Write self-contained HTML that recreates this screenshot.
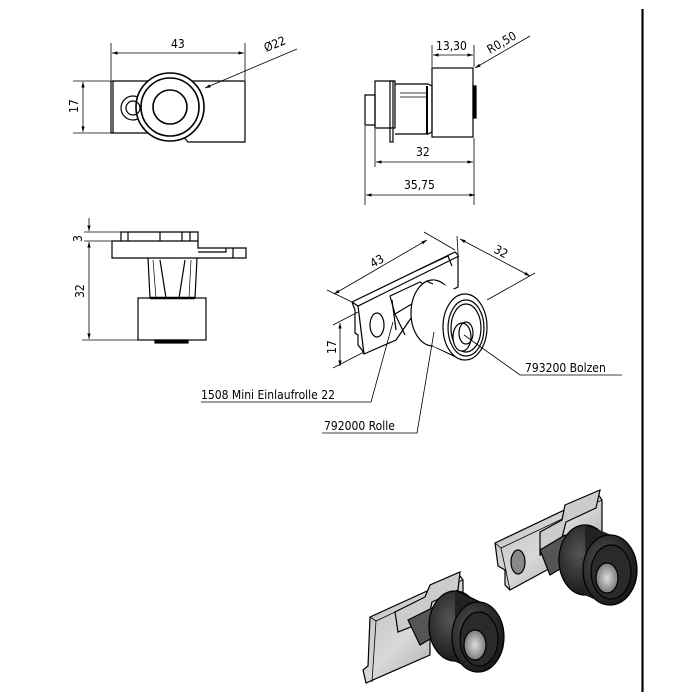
<!DOCTYPE html>
<html><head><meta charset="utf-8"><style>
html,body{margin:0;padding:0;background:#fff;}
svg{display:block;}
text{font-family:"DejaVu Sans Condensed","Liberation Sans",sans-serif;font-size:12px;fill:#000;}
</style></head><body>
<svg width="700" height="700" viewBox="0 0 700 700" xmlns="http://www.w3.org/2000/svg">
<defs>
<marker id="a" viewBox="0 0 10 10" refX="10" refY="5" markerWidth="7" markerHeight="7" orient="auto-start-reverse"><path d="M0,2 L10,5 L0,8 z" fill="#000"/></marker>
<linearGradient id="met" x1="0" y1="0" x2="1" y2="1"><stop offset="0" stop-color="#bbb"/><stop offset="0.5" stop-color="#d8d8d8"/><stop offset="1" stop-color="#999"/></linearGradient>
<radialGradient id="dk" cx="40%" cy="40%" r="70%"><stop offset="0" stop-color="#555"/><stop offset="1" stop-color="#111"/></radialGradient>
<radialGradient id="bolt" cx="50%" cy="50%" r="60%"><stop offset="0" stop-color="#ddd"/><stop offset="1" stop-color="#666"/></radialGradient>
</defs>
<g fill="none" stroke="#000" stroke-width="1">
<line x1="642.5" y1="9" x2="642.5" y2="692" stroke-width="2.2"/>

<!-- TOP LEFT VIEW -->
<g stroke-width="1.2">
<path d="M111,81 H245 V142 H188 L180,133 H111 Z"/>
<line x1="113" y1="81" x2="113" y2="133"/>
<circle cx="133" cy="108" r="12" fill="#fff"/>
<circle cx="170" cy="107" r="34" fill="#fff" stroke-width="1.6"/>
<circle cx="170" cy="107" r="29" stroke-width="1.6"/>
<circle cx="170" cy="107" r="17" stroke-width="1.6"/>
<circle cx="133" cy="108" r="7"/>
</g>
<line x1="111" y1="43" x2="111" y2="80" stroke-width="0.8"/>
<line x1="245" y1="43" x2="245" y2="80" stroke-width="0.8"/>
<line x1="112" y1="53" x2="244" y2="53" stroke-width="0.8" marker-start="url(#a)" marker-end="url(#a)"/>
<line x1="73" y1="81" x2="111" y2="81" stroke-width="0.8"/>
<line x1="73" y1="133" x2="111" y2="133" stroke-width="0.8"/>
<line x1="83" y1="82" x2="83" y2="132" stroke-width="0.8" marker-start="url(#a)" marker-end="url(#a)"/>
<line x1="297" y1="49" x2="205" y2="88" stroke-width="0.8" marker-end="url(#a)"/>

<!-- TOP RIGHT VIEW -->
<g stroke-width="1.2">
<rect x="432" y="68" width="41" height="69"/>
<rect x="473" y="86" width="3" height="32" fill="#000"/>
<path d="M375,81 H395 V128 H375 Z"/>
<path d="M365,95 H375 V125 H365 Z"/>
<rect x="390" y="81" width="3" height="61"/>
<path d="M395,84 H428 L432,86 V132 L428,134 H395"/>
<line x1="400" y1="93" x2="428" y2="93" stroke-width="0.8"/>
<line x1="400" y1="97" x2="428" y2="97" stroke-width="0.8"/>
<line x1="427" y1="86" x2="427" y2="134" stroke-width="2"/>
</g>
<line x1="432" y1="45" x2="432" y2="67" stroke-width="0.8"/>
<line x1="474" y1="45" x2="474" y2="67" stroke-width="0.8"/>
<line x1="433" y1="55" x2="473" y2="55" stroke-width="0.8" marker-start="url(#a)" marker-end="url(#a)"/>
<line x1="530" y1="36" x2="475" y2="68" stroke-width="0.8" marker-end="url(#a)"/>
<line x1="375" y1="129" x2="375" y2="167" stroke-width="0.8"/>
<line x1="474" y1="138" x2="474" y2="205" stroke-width="0.8"/>
<line x1="365" y1="126" x2="365" y2="205" stroke-width="0.8"/>
<line x1="376" y1="162" x2="473" y2="162" stroke-width="0.8" marker-start="url(#a)" marker-end="url(#a)"/>
<line x1="366" y1="195" x2="475" y2="195" stroke-width="0.8" marker-start="url(#a)" marker-end="url(#a)"/>

<!-- MIDDLE LEFT VIEW -->
<g stroke-width="1.2">
<path d="M121,241 V232 H198 V241"/>
<line x1="128" y1="232" x2="128" y2="241"/>
<line x1="160" y1="232" x2="160" y2="241"/>
<line x1="182" y1="232" x2="182" y2="241"/>
<line x1="190" y1="232" x2="190" y2="241"/>
<path d="M112,241 H198 V248 H246 V258 H112 Z"/>
<path d="M198,252 H226 V248"/>
<line x1="233" y1="248" x2="233" y2="258"/>
<path d="M148,258 L150,298 M197,258 L195,298"/>
<path d="M160,260 L166,298 M185,260 L179,298"/>
<line x1="153" y1="260" x2="156" y2="298" stroke-width="0.7"/>
<line x1="191" y1="260" x2="189" y2="298" stroke-width="0.7"/>
<rect x="138" y="298" width="68" height="42"/>
<line x1="150" y1="298" x2="195" y2="298" stroke-width="2.5"/>
<rect x="155" y="340" width="33" height="3" fill="#000"/>
</g>
<line x1="84" y1="232" x2="121" y2="232" stroke-width="0.8"/>
<line x1="84" y1="241" x2="112" y2="241" stroke-width="0.8"/>
<line x1="82" y1="340" x2="138" y2="340" stroke-width="0.8"/>
<line x1="89" y1="218" x2="89" y2="231" stroke-width="0.8" marker-end="url(#a)"/>
<line x1="89" y1="242" x2="89" y2="339" stroke-width="0.8" marker-start="url(#a)" marker-end="url(#a)"/>

<!-- ISOMETRIC -->
<g stroke-width="1.2">
<path d="M352,302 L455,252 L458,255 L458,287 L420,305 L396,340 L364,354 L362,350 L358,345 L358,335 L355,333 L355,310 Z" fill="#fff"/>
<path d="M352,302 L358,306 L459,256"/>
<line x1="358" y1="306" x2="364" y2="354"/>
<ellipse cx="377" cy="325" rx="7" ry="12"/>
<path d="M390,296 L420,282 L435,290 L410,305 L395,314 Z" fill="#fff"/>
<path d="M392,300 L396,330 M395,314 L405,335"/>
<path d="M418,270 L448,256 L452,266"/>
<path d="M432,280 L457,292 L487,327 L465,360 L440,350 L410,325 Z" fill="#fff" stroke="none"/>
<ellipse cx="433" cy="313" rx="22" ry="33" fill="#fff"/>
<path d="M426,281 L457,294 M433,346 L462,360"/>
<path d="M433,280 L465,294 L465,360 L433,346 Z" fill="#fff" stroke="none"/>
<ellipse cx="465" cy="327" rx="22" ry="33" fill="#fff"/>
<ellipse cx="466" cy="328" rx="18" ry="28"/>
<ellipse cx="466" cy="328" rx="15" ry="24"/>
<ellipse cx="462" cy="337" rx="9" ry="14" fill="#fff"/>
<ellipse cx="466" cy="333" rx="7" ry="11"/>
</g>
<line x1="327" y1="290" x2="352" y2="302" stroke-width="0.8"/>
<line x1="424" y1="232" x2="455" y2="250" stroke-width="0.8"/>
<line x1="334" y1="294" x2="427" y2="240" stroke-width="0.8" marker-start="url(#a)" marker-end="url(#a)"/>
<line x1="457" y1="236" x2="458" y2="254" stroke-width="0.8"/>
<line x1="460" y1="239" x2="530" y2="276" stroke-width="0.8" marker-start="url(#a)" marker-end="url(#a)"/>
<line x1="487" y1="300" x2="535" y2="273" stroke-width="0.8"/>
<line x1="333" y1="325" x2="358" y2="312" stroke-width="0.8"/>
<line x1="333" y1="368" x2="364" y2="352" stroke-width="0.8"/>
<line x1="340" y1="323" x2="340" y2="366" stroke-width="0.8" marker-start="url(#a)" marker-end="url(#a)"/>
<polyline points="464,335 520,375 622,375" stroke-width="0.8"/>
<polyline points="393,322 371,402 201,402" stroke-width="0.8"/>
<polyline points="434,332 417,433 322,433" stroke-width="0.8"/>

<!-- BOTTOM RENDERS: right -->
<g stroke="#000" stroke-width="1.2">
<path d="M495,543 L598,494 L602,500 L602,540 L510,590 L505,585 L505,570 L498,566 Z" fill="url(#met)"/>
<path d="M495,543 L501,548 L602,500" stroke-width="0.8"/>
<line x1="501" y1="548" x2="510" y2="590" stroke-width="0.8"/>
<path d="M540,532 L562,520 L565,505 L600,490 L596,508 L566,522 L560,545 L540,555 Z" fill="#ccc"/>
<ellipse cx="518" cy="562" rx="7" ry="12" fill="#888"/>
<path d="M540,550 L565,535 L575,560 L550,575 Z" fill="#555"/>
<path d="M570,530 L605,540 L608,605 L585,595 Z" fill="#222" stroke="none"/>
<ellipse cx="585" cy="560" rx="26" ry="35" fill="url(#dk)"/>
<path d="M585,525 L610,535 M586,595 L610,605"/>
<path d="M585,525 L610,535 L610,605 L586,595 Z" fill="#222" stroke="none"/>
<ellipse cx="610" cy="570" rx="27" ry="35" fill="url(#dk)"/>
<ellipse cx="611" cy="572" rx="20" ry="27" fill="#2a2a2a"/>
<ellipse cx="607" cy="578" rx="11" ry="15" fill="url(#bolt)"/>
</g>
<!-- left -->
<g stroke="#000" stroke-width="1.2">
<path d="M370,617 L460,576 L463,580 L463,600 L430,620 L430,655 L366,683 L363,670 L368,666 Z" fill="url(#met)"/>
<path d="M370,617 L376,621 L463,580" stroke-width="0.8"/>
<line x1="376" y1="621" x2="372" y2="682" stroke-width="0.8"/>
<path d="M395,612 L425,597 L430,585 L460,572 L458,590 L432,602 L428,620 L398,632 Z" fill="#ccc"/>
<path d="M408,620 L432,608 L445,630 L420,645 Z" fill="#555"/>
<path d="M445,593 L478,603 L480,672 L455,661 Z" fill="#222" stroke="none"/>
<ellipse cx="455" cy="626" rx="26" ry="35" fill="url(#dk)"/>
<path d="M455,591 L480,602 L480,672 L455,661 Z" fill="#222" stroke="none"/>
<path d="M457,591 L480,602 M455,661 L480,672"/>
<ellipse cx="478" cy="637" rx="26" ry="35" fill="url(#dk)"/>
<ellipse cx="479" cy="639" rx="19" ry="27" fill="#2a2a2a"/>
<ellipse cx="475" cy="645" rx="11" ry="15" fill="url(#bolt)"/>
</g>
</g>

<text x="171" y="48">43</text>
<text x="0" y="0" transform="translate(266,52) rotate(-22)">Ø22</text>
<text x="0" y="0" transform="translate(78,113) rotate(-90)">17</text>
<text x="436" y="50">13,30</text>
<text x="0" y="0" transform="translate(490,54) rotate(-30)">R0,50</text>
<text x="416" y="156">32</text>
<text x="404" y="189">35,75</text>
<text x="0" y="0" transform="translate(82,242) rotate(-90)">3</text>
<text x="0" y="0" transform="translate(84,298) rotate(-90)">32</text>
<text x="0" y="0" transform="translate(373,268) rotate(-30)">43</text>
<text x="0" y="0" transform="translate(493,252) rotate(28)" font-size="10">32</text>
<text x="0" y="0" transform="translate(336,354) rotate(-90)" font-size="10">17</text>
<text x="525" y="372">793200 Bolzen</text>
<text x="201" y="399">1508 Mini Einlaufrolle 22</text>
<text x="324" y="430">792000 Rolle</text>
</svg>
</body></html>
